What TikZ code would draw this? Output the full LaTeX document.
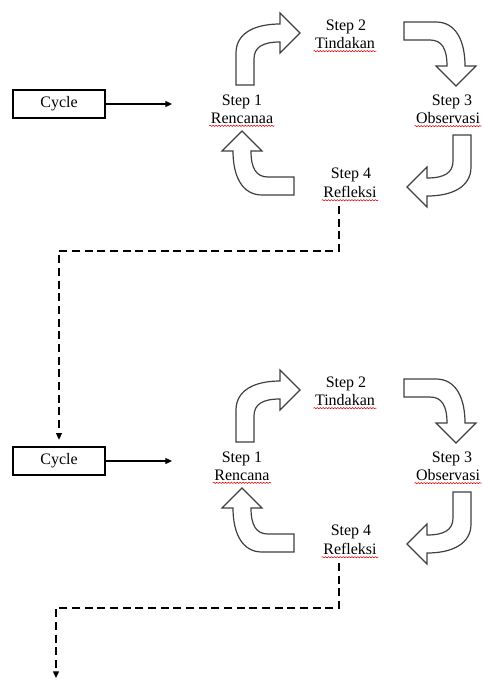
\documentclass[tikz,border=0pt]{standalone}
\usepackage{fontspec}
\setmainfont{Liberation Serif}
\usetikzlibrary{arrows.meta,decorations.pathmorphing}

\tikzset{
  bentarrow/.pic={
    \draw[line width=0.9pt,draw=black!75,fill=white]
      (-9,0) -- (-9,-32) .. controls (-9,-52) and (10,-61) .. (35,-61)
      -- (35,-72) -- (55,-52) -- (35,-32) -- (35,-43)
      .. controls (18,-43) and (9,-38) .. (9,-26) -- (9,0) -- cycle;
  },
  steplbl/.style={font=\fontsize{12}{14}\selectfont,inner sep=1pt},
  spell/.style={red!85!black,line width=0.4pt,decorate,
    decoration={snake,amplitude=0.45pt,segment length=2.2pt}},
  cyclebox/.style={draw,line width=0.9pt,minimum width=69pt,minimum height=21pt,
    inner sep=0pt,font=\fontsize{12}{14}\selectfont},
  flow/.style={-{Triangle[length=5pt,width=4.5pt]},line width=0.9pt},
  dashflow/.style={flow,dash pattern=on 6pt off 3.5pt}
}

\begin{document}
\begin{tikzpicture}[x=0.75pt,y=-0.75pt]
  \useasboundingbox (0,0) rectangle (484,682);

  \foreach \c/\oy/\plan in {1/0/Rencanaa,2/357/Rencana}
  {
    \begin{scope}[shift={(0,\oy)}]
      % the cycle box and its arrow
      \node[cyclebox] (cycle\c) at (59,104) {Cycle};
      \coordinate (in\c) at (172,104);
      \draw[flow] (cycle\c) -- (in\c);
      % step labels
      \node[steplbl] (plan\c) at (242,118) {\plan};
      \node[steplbl] at (242,102) {Step 1};
      \node[steplbl] (act\c) at (345,43) {Tindakan};
      \node[steplbl] at (346,27) {Step 2};
      \node[steplbl] (obs\c) at (448,118) {Observasi};
      \node[steplbl] at (452,102) {Step 3};
      \node[steplbl] (refl\c) at (350,192) {Refleksi};
      \node[steplbl] at (351,175) {Step 4};
      \foreach \n in {plan,act,obs,refl}
        \draw[spell] ([yshift=-2pt]\n\c.base west) -- ([yshift=-2pt]\n\c.base east);
      % the bent arrows
      \pic at (245,85) {bentarrow};
      \pic[rotate=-90] at (404,31) {bentarrow};
      \pic[rotate=180] at (462,135) {bentarrow};
      \pic[rotate=90] at (294,186) {bentarrow};
      \coordinate (drop\c) at (339,206);
    \end{scope}
  }

  % dashed links to the next cycle
  \draw[dashflow,shorten >=5pt] (drop1) -- ++(0,45) -| (cycle2.north);
  \coordinate (next) at (56,678);
  \draw[dashflow] (drop2) -- ++(0,45) -| (next);
\end{tikzpicture}
\end{document}
